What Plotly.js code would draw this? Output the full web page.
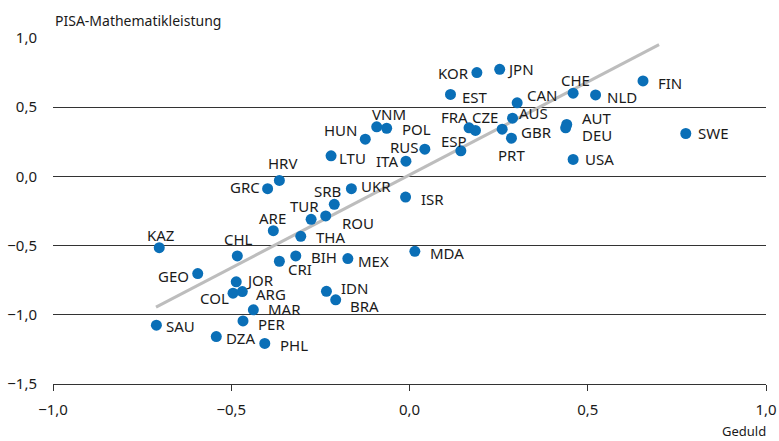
<!DOCTYPE html>
<html>
<head>
<meta charset="utf-8">
<script src="https://cdn.plot.ly/plotly-3.0.1.min.js"></script>
<style>html,body{margin:0;padding:0;background:#fff}#chart{width:779px;height:441px}</style>
</head>
<body>
<div id="chart"></div>
<script>
const countries = ["KOR","JPN","EST","CHE","FIN","NLD","CAN","AUS","FRA","CZE","GBR","PRT","AUT","DEU","SWE","USA","ESP","VNM","POL","HUN","RUS","ITA","LTU","HRV","GRC","SRB","UKR","ISR","TUR","ROU","ARE","THA","KAZ","CHL","BIH","CRI","MEX","MDA","GEO","JOR","COL","ARG","IDN","BRA","MAR","PER","SAU","DZA","PHL"];
const geduld = [0.189,0.253,0.115,0.459,0.655,0.522,0.302,0.289,0.167,0.185,0.260,0.286,0.441,0.438,0.775,0.459,0.144,-0.092,-0.064,-0.124,0.043,-0.010,-0.220,-0.365,-0.398,-0.211,-0.163,-0.011,-0.276,-0.235,-0.382,-0.305,-0.702,-0.483,-0.319,-0.365,-0.173,0.015,-0.594,-0.486,-0.495,-0.469,-0.233,-0.207,-0.438,-0.467,-0.710,-0.542,-0.406];
const mathe = [0.750,0.774,0.592,0.601,0.690,0.589,0.532,0.421,0.351,0.332,0.341,0.276,0.375,0.351,0.310,0.123,0.185,0.358,0.348,0.269,0.197,0.110,0.149,-0.029,-0.089,-0.202,-0.089,-0.149,-0.310,-0.286,-0.392,-0.433,-0.515,-0.575,-0.575,-0.613,-0.594,-0.541,-0.702,-0.762,-0.844,-0.832,-0.830,-0.892,-0.964,-1.044,-1.075,-1.157,-1.207];
// label placement (anchor, pixel offsets)
const labelAnchor = ["right","left","left","center","left","left","left","left","right","left","left","center","left","left","left","left","right","center","left","right","right","right","left","center","right","center","left","left","center","left","center","left","center","center","left","left","left","left","right","left","right","left","left","left","left","left","left","left","left"];
const labelDx = [-7,6,10,2,14,10,9,5,0,-4,18,0,14,15,11,11,7,12,14,-7,-5,-7,7,3,-7,-7,9,14,-7,15,-1,14,1,1,14,8,9,14,-8,9,-3,13,14,13,14,14,9,9,14];
const labelDy = [0,0,-3,13,-2,-2,8,5,11,13,-3,-17,7,-7,1,0,10,13,-1,9,2,0,-2,17,2,13,3,-2,13,-7,13,-1,13,17,-1,-8,-2,-2,-2,2,-5,-2,3,-6,1,-3,-1,-1,-2];
const trendX = [-0.711, 0.700];
const trendY = [-0.945, 0.952];
const xTicks = [-1, -0.5, 0, 0.5, 1];
const yTicks = [-1.5, -1, -0.5, 0, 0.5, 1];

const font = "Noto Sans, sans-serif";
const data = [
  {x: trendX, y: trendY, mode: "lines", line: {color: "#bdbdbd", width: 3}, hoverinfo: "skip", showlegend: false},
  {x: geduld, y: mathe, mode: "markers", marker: {color: "#0a6fb7", size: 11}, cliponaxis: false, showlegend: false}
];
const labels = countries.map((c, i) => ({
  text: c, x: geduld[i], y: mathe[i], xref: "x", yref: "y", showarrow: false,
  xanchor: labelAnchor[i], yanchor: "middle", xshift: labelDx[i], yshift: labelDy[i],
  borderpad: 0, font: {family: font, size: 15, color: "#1a1a1a"}
}));
const layout = {
  width: 779, height: 441,
  margin: {l: 53, r: 13, t: 38, b: 57},
  paper_bgcolor: "#fff", plot_bgcolor: "#fff",
  separators: ",.",
  font: {family: font, size: 14, color: "#1a1a1a"},
  xaxis: {range: [-1, 1], tickvals: xTicks, tickformat: ".1f", showgrid: false, zeroline: false,
    showline: true, linecolor: "#333", linewidth: 1, ticks: "outside", ticklen: 6, tickcolor: "#333",
    ticklabelstandoff: 6, tickfont: {family: font, size: 15}},
  yaxis: {range: [-1.5, 1], tickvals: yTicks, tickformat: ".1f", showgrid: true, gridcolor: "#333", gridwidth: 1,
    zeroline: false, showline: false, ticks: "", ticklabelstandoff: 15, tickfont: {family: font, size: 15}},
  annotations: labels.concat([
    {text: "PISA-Mathematikleistung", xref: "paper", yref: "paper", x: 0, y: 1, xanchor: "left", yanchor: "bottom", yshift: 6, showarrow: false, font: {family: font, size: 14}},
    {text: "Geduld", xref: "paper", yref: "paper", x: 1, y: 0, xanchor: "right", yanchor: "top", yshift: -36, xshift: 2, showarrow: false, font: {family: font, size: 13}}
  ])
};
Plotly.newPlot("chart", data, layout, {displayModeBar: false, staticPlot: true});
</script>
</body>
</html>
